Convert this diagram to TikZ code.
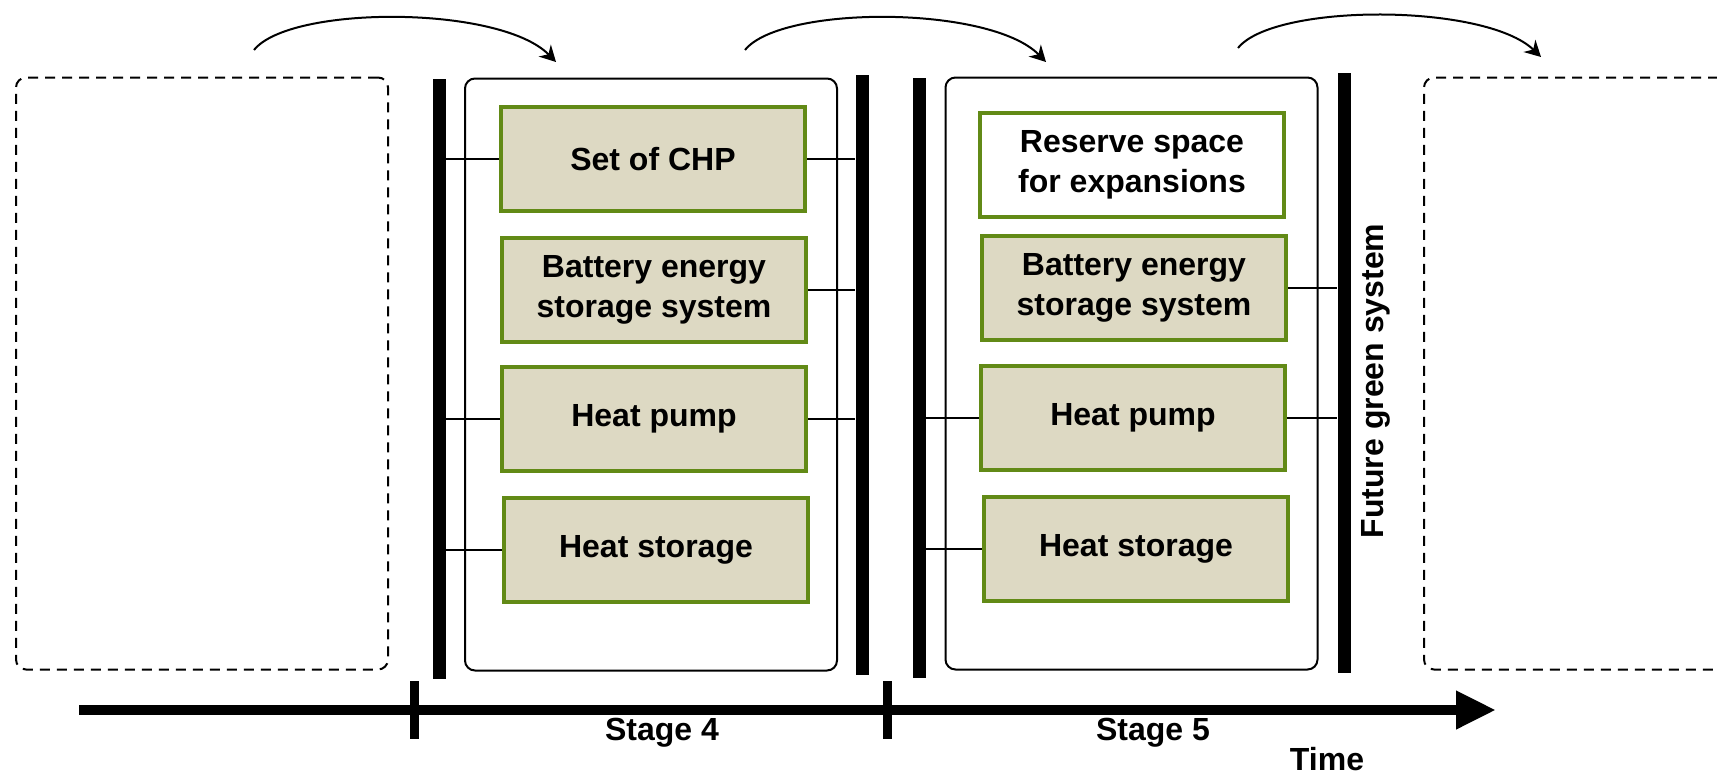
\documentclass[tikz,border=0pt]{standalone}
\usepackage{fontspec}
\setmainfont{Liberation Sans}
\usepackage{tikz}
\usepackage{xcolor}
\usetikzlibrary{positioning,arrows.meta}
\definecolor{olivegrn}{RGB}{98,138,22}
\definecolor{sandfill}{RGB}{221,217,195}

\begin{document}
\begin{tikzpicture}[x=0.5pt,y=-0.5pt,
  every node/.style={font=\bfseries\fontsize{16}{19.7}\selectfont},
  unit/.style={draw=olivegrn,fill=sandfill,line width=2.2pt,minimum width=152pt,minimum height=52pt,align=center,inner sep=0pt},
  bus/.style={fill=black,minimum width=6.5pt,minimum height=300pt,inner sep=0pt},
  stagebox/.style={draw,line width=1pt,rounded corners=5pt,minimum width=186pt,minimum height=296pt},
  oldbox/.style={draw,dash pattern=on 5pt off 3.5pt,line width=1pt,rounded corners=5pt,minimum width=186pt,minimum height=296pt},
  link/.style={line width=1pt},
  hop/.style={line width=1pt,-{Stealth[length=8pt,width=8.5pt]}}]
  \useasboundingbox (0,0) rectangle (1717,776);
  \node[oldbox] (prev) at (202,373.5) {};
  \node[oldbox] (next) at (1610,373.5) {};
  \node[stagebox] (s4) at (651,374.5) {};
  \node[stagebox] (s5) at (1131.5,373.5) {};
  \node[bus] (b1) at (439,378.5) {};
  \node[bus] (b2) at (862,374.5) {};
  \node[bus] (b3) at (919,377.5) {};
  \node[bus] (b4) at (1344,373) {};
  \node[unit] (chp4) at (653,159) {Set of CHP};
  \node[unit] (bat4) at (654,290) {Battery energy\\storage system};
  \node[unit] (hp4) at (654,419) {Heat pump};
  \node[unit] (hs4) at (656,550) {Heat storage};
  \node[unit,fill=white] (res5) at (1132,165) {Reserve space\\for expansions};
  \node[unit] (bat5) at (1134,288) {Battery energy\\storage system};
  \node[unit] (hp5) at (1133,418) {Heat pump};
  \node[unit] (hs5) at (1136,549) {Heat storage};
  \draw[link] (b1.east |- chp4.west) -- (chp4.west);
  \draw[link] (b1.east |- hp4.west) -- (hp4.west);
  \draw[link] (b1.east |- hs4.west) -- (hs4.west);
  \draw[link] (chp4.east) -- (chp4.east -| b2.west);
  \draw[link] (bat4.east) -- (bat4.east -| b2.west);
  \draw[link] (hp4.east) -- (hp4.east -| b2.west);
  \draw[link] (b3.east |- hp5.west) -- (hp5.west);
  \draw[link] (b3.east |- hs5.west) -- (hs5.west);
  \draw[link] (bat5.east) -- (bat5.east -| b4.west);
  \draw[link] (hp5.east) -- (hp5.east -| b4.west);
  \coordinate (t0) at (79,710);
  \coordinate (t1) at (1496,710);
  \draw[line width=5pt,-{Triangle[length=20pt,width=18pt]}] (t0) -- (t1);
  \draw[line width=4.5pt] (414,681) -- (414,739);
  \draw[line width=4.5pt] (887,681) -- (887,739);
  \node (st4) at (662,733) {Stage 4};
  \node (st5) at (1153,733) {Stage 5};
  \node (time) at (1327,759) {Time};
  \node[rotate=90] (future) at (1376,381) {Future green system};
  \coordinate (a1) at (254,50);
  \coordinate (a2) at (556,62);
  \coordinate (a3) at (745,50);
  \coordinate (a4) at (1046,62);
  \coordinate (a5) at (1238,48);
  \coordinate (a6) at (1541,57);
  \draw[hop] (a1) .. controls (290,5) and (500,5) .. (a2);
  \draw[hop] (a3) .. controls (781,5) and (990,5) .. (a4);
  \draw[hop] (a5) .. controls (1274,3) and (1485,3) .. (a6);
\end{tikzpicture}
\end{document}
